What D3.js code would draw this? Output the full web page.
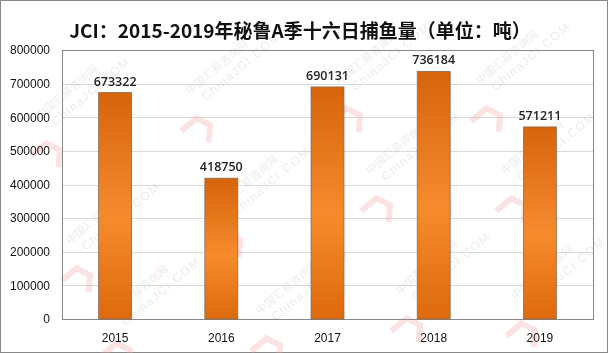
<!DOCTYPE html>
<html>
<head>
<meta charset="utf-8">
<script src="https://cdn.jsdelivr.net/npm/d3@7"></script>
<style>
  body { margin: 0; background: #fff; }
  svg { display: block; }
</style>
</head>
<body>
<svg></svg>
<script>
const SIZE = { width: 608, height: 353 }
const PLOT = { left: 62, right: 593, top: 50, bottom: 319 }

const TITLE = 'JCI：2015-2019年秘鲁A季十六日捕鱼量（单位：吨）'
const years = ['2015', '2016', '2017', '2018', '2019']
const catches = [673322, 418750, 690131, 736184, 571211]
const yTicks = [0, 100000, 200000, 300000, 400000, 500000, 600000, 700000, 800000]

const svg = d3.select('svg')
  .attr('width', SIZE.width)
  .attr('height', SIZE.height)

const defs = svg.append('defs')
const grad = defs.append('linearGradient')
  .attr('id', 'barFill')
  .attr('x1', 0).attr('y1', 0).attr('x2', 0).attr('y2', 1)
grad.append('stop').attr('offset', '0%').attr('stop-color', '#d6640a')
grad.append('stop').attr('offset', '55%').attr('stop-color', '#f68b2e')
grad.append('stop').attr('offset', '100%').attr('stop-color', '#dd6a0c')

const xScale = d3.scaleBand()
  .domain(years)
  .range([PLOT.left, PLOT.right])
  .paddingInner(0.69)
  .paddingOuter(0.345)

const yScale = d3.scaleLinear()
  .domain([0, 800000])
  .range([PLOT.bottom, PLOT.top])

// outer frame
svg.append('rect')
  .attr('x', 0.5).attr('y', 0.5)
  .attr('width', SIZE.width - 1).attr('height', SIZE.height - 1)
  .attr('fill', '#fff').attr('stroke', '#888')

// grid
svg.append('g')
  .selectAll('line')
  .data(yTicks.slice(1, -1))
  .join('line')
  .attr('x1', PLOT.left).attr('x2', PLOT.right)
  .attr('y1', d => Math.round(yScale(d)) + 0.5)
  .attr('y2', d => Math.round(yScale(d)) + 0.5)
  .attr('stroke', '#d9d9d9')

// watermark, kept faint and away from the edges
const wm = svg.append('g').attr('opacity', 0.3)
const marks = [[40, 120], [190, 95], [340, 85], [480, 85], [70, 245], [220, 210], [370, 175], [505, 175], [110, 320], [260, 315], [400, 295], [515, 300]]
marks.forEach(([x, y]) => {
  const g = wm.append('g').attr('transform', `translate(${x},${y}) rotate(-40)`)
  g.append('text').text('中国汇易咨询网')
    .attr('x', 0).attr('y', 0)
    .attr('font-family', 'Noto Sans CJK SC').attr('font-size', 11)
    .attr('fill', '#bbb')
  g.append('text').text('ChinaJCI.COM')
    .attr('x', 8).attr('y', 15)
    .attr('font-family', 'Liberation Sans').attr('font-size', 12)
    .attr('letter-spacing', 1.5).attr('fill', '#bbb')
  g.append('path')
    .attr('d', 'M-30,22 L-10,22 L-4,36 L-16,48')
    .attr('fill', 'none').attr('stroke', '#f4a0a0').attr('stroke-width', 6)
})

// plot border
svg.append('rect')
  .attr('x', PLOT.left + 0.5).attr('y', PLOT.top + 0.5)
  .attr('width', PLOT.right - PLOT.left).attr('height', PLOT.bottom - PLOT.top)
  .attr('fill', 'none').attr('stroke', '#888')

// bars
svg.append('g')
  .selectAll('rect')
  .data(catches)
  .join('rect')
  .attr('x', (d, i) => xScale(years[i]))
  .attr('y', d => yScale(d))
  .attr('width', xScale.bandwidth())
  .attr('height', d => yScale(0) - yScale(d))
  .attr('fill', 'url(#barFill)')
  .attr('stroke', '#8c6a52')
  .attr('stroke-width', 0.8)

// value labels
svg.append('g')
  .selectAll('text')
  .data(catches)
  .join('text')
  .text(d => d)
  .attr('x', (d, i) => xScale(years[i]) + xScale.bandwidth() / 2)
  .attr('y', d => yScale(d) - 7)
  .attr('text-anchor', 'middle')
  .attr('font-family', 'Open Sans, sans-serif')
  .attr('font-size', 12.5)
  .attr('font-weight', 600)
  .attr('fill', '#222')

// y axis
const yAxis = d3.axisLeft(yScale).tickValues(yTicks).tickSize(0).tickPadding(12).tickFormat(d3.format('d'))
svg.append('g')
  .attr('transform', `translate(${PLOT.left}, 0)`)
  .call(yAxis)
  .call(g => g.select('.domain').remove())
  .call(g => g.selectAll('text')
    .attr('font-family', 'Liberation Sans, Arial, sans-serif')
    .attr('font-size', 12)
    .attr('fill', '#111'))

// x axis
const xAxis = d3.axisBottom(xScale).tickSize(0).tickPadding(14)
svg.append('g')
  .attr('transform', `translate(0, ${PLOT.bottom})`)
  .call(xAxis)
  .call(g => g.select('.domain').remove())
  .call(g => g.selectAll('text')
    .attr('font-family', 'Liberation Sans, Arial, sans-serif')
    .attr('font-size', 12)
    .attr('fill', '#111'))

// title
svg.append('text')
  .text(TITLE)
  .attr('x', 300)
  .attr('y', 38)
  .attr('text-anchor', 'middle')
  .attr('font-family', 'Noto Sans CJK SC')
  .attr('font-weight', 700)
  .attr('font-size', 19)
  .attr('fill', '#111')
</script>
</body>
</html>
